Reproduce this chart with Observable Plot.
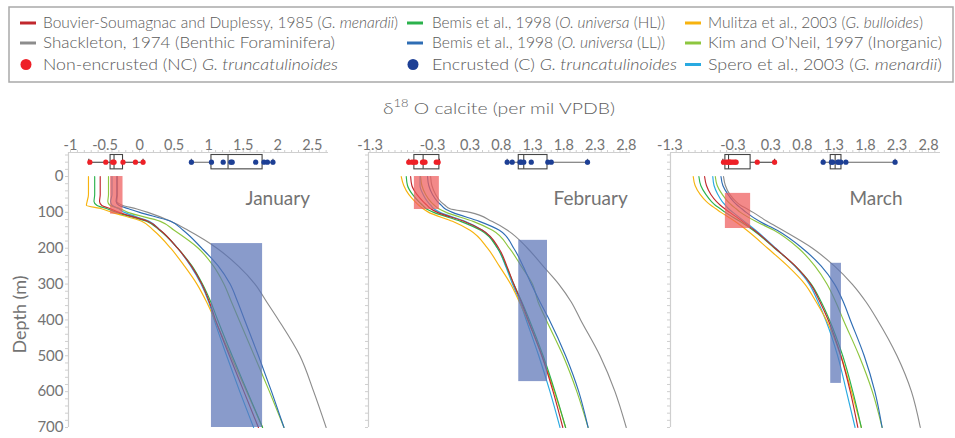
<!DOCTYPE html>
<html><head><meta charset="utf-8">
<script src="https://cdn.jsdelivr.net/npm/d3@7"></script>
<script src="https://cdn.jsdelivr.net/npm/@observablehq/plot@0.6"></script>
<style>
body{margin:0;background:#fff;font-family:Lato,"Noto Sans",sans-serif;}
#wrap{position:relative;width:955px;height:438px;overflow:hidden;background:#fff;}
.panel{position:absolute;top:120px;}
</style></head><body><div id="wrap"></div>
<script>
// ---------- data ----------
const DEPTHS = [0, 25, 50, 70, 80, 90, 100, 125, 150, 200, 250, 300, 350, 400, 500, 600, 700];

const SERIES_KEYS = ["Shackleton", "Kim", "BemisLL", "Spero", "Mulitza", "BemisHL", "Bouvier"];
const SERIES_COLORS = ["#8c8c8c", "#8dc63f", "#2e6db4", "#29aae1", "#f7b30f", "#2bb24c", "#c1272d"];

// January profiles (d18O calcite per mil at DEPTHS)
const janShackleton = [-0.32,-0.32,-0.32,-0.33,-0.25,-0.05,0.12,0.45,0.70,1.12,1.43,1.67,1.84,2.01,2.32,2.52,2.70];
const janKim        = [-0.45,-0.45,-0.45,-0.46,-0.43,-0.28,-0.17,0.30,0.50,0.85,1.07,1.22,1.33,1.44,1.66,1.88,2.09];
const janBemisLL    = [-0.33,-0.33,-0.33,-0.34,-0.30,-0.16,0.00,0.45,0.63,0.90,1.14,1.31,1.42,1.52,1.72,1.91,2.09];
const janSpero      = [-0.40,-0.40,-0.40,-0.42,-0.40,-0.30,-0.22,0.14,0.30,0.55,0.74,0.89,1.00,1.08,1.26,1.45,1.65];
const janMulitza    = [-0.74,-0.74,-0.74,-0.76,-0.77,-0.55,-0.40,0.03,0.20,0.45,0.65,0.83,0.97,1.09,1.32,1.55,1.78];
const janBemisHL    = [-0.65,-0.65,-0.65,-0.66,-0.62,-0.47,-0.33,0.10,0.29,0.55,0.76,0.91,1.03,1.13,1.34,1.56,1.78];
const janBouvier    = [-0.57,-0.57,-0.57,-0.58,-0.55,-0.42,-0.30,0.12,0.30,0.55,0.75,0.90,1.01,1.10,1.30,1.51,1.72];

// February profiles
const febShackleton = [-0.33,-0.31,-0.25,-0.17,-0.10,-0.02,0.30,0.65,0.90,1.22,1.47,1.72,1.92,2.07,2.38,2.62,2.80];
const febKim        = [-0.49,-0.47,-0.41,-0.33,-0.27,-0.20,-0.08,0.35,0.66,0.93,1.12,1.30,1.39,1.52,1.79,2.01,2.19];
const febBemisLL    = [-0.38,-0.36,-0.30,-0.22,-0.16,-0.10,0.02,0.45,0.77,1.00,1.15,1.28,1.42,1.57,1.83,2.04,2.19];
const febSpero      = [-0.50,-0.50,-0.45,-0.38,-0.33,-0.28,-0.18,0.22,0.50,0.74,0.87,0.98,1.10,1.20,1.40,1.58,1.74];
const febMulitza    = [-0.80,-0.76,-0.68,-0.58,-0.52,-0.45,-0.36,0.02,0.30,0.58,0.77,0.95,1.09,1.22,1.45,1.65,1.83];
const febBemisHL    = [-0.72,-0.70,-0.62,-0.52,-0.46,-0.40,-0.28,0.15,0.47,0.74,0.88,1.00,1.13,1.25,1.47,1.66,1.83];
const febBouvier    = [-0.65,-0.63,-0.55,-0.45,-0.39,-0.33,-0.22,0.20,0.50,0.76,0.89,1.00,1.12,1.23,1.45,1.63,1.785];

// March profiles
const marShackleton = [-0.45,-0.42,-0.35,-0.25,-0.18,-0.08,0.02,0.24,0.49,0.96,1.31,1.59,1.81,1.99,2.30,2.53,2.67];
const marKim        = [-0.58,-0.55,-0.47,-0.38,-0.32,-0.25,-0.18,0.06,0.35,0.74,1.00,1.19,1.33,1.45,1.70,1.91,2.065];
const marBemisLL    = [-0.49,-0.46,-0.38,-0.29,-0.23,-0.16,-0.09,0.12,0.40,0.80,1.10,1.31,1.45,1.56,1.78,1.95,2.065];
const marSpero      = [-0.62,-0.60,-0.54,-0.47,-0.42,-0.37,-0.30,-0.12,0.06,0.38,0.68,0.91,1.05,1.17,1.36,1.50,1.636];
const marMulitza    = [-0.93,-0.90,-0.82,-0.72,-0.65,-0.57,-0.49,-0.27,-0.08,0.25,0.57,0.84,1.02,1.18,1.41,1.58,1.735];
const marBemisHL    = [-0.84,-0.81,-0.73,-0.64,-0.58,-0.50,-0.42,-0.19,0.02,0.36,0.69,0.94,1.10,1.23,1.44,1.60,1.735];
const marBouvier    = [-0.75,-0.72,-0.65,-0.56,-0.50,-0.43,-0.35,-0.15,0.04,0.37,0.69,0.93,1.08,1.21,1.41,1.56,1.68];

// Non-encrusted (NC) and encrusted (C) G. truncatulinoides measurements
const ncJan = [-0.72,-0.49,-0.39,-0.37,-0.24,-0.06,0.05];
const ncFeb = [-0.68,-0.63,-0.60,-0.57,-0.46,-0.44,-0.42,-0.24,-0.21];
const ncMar = [-0.45,-0.41,-0.38,-0.36,-0.35,-0.33,-0.30,-0.27,-0.25,0.085,0.36];
const cJan  = [0.75,1.04,1.21,1.32,1.34,1.68,1.80,1.85,1.93];
const cFeb  = [0.895,0.975,1.10,1.12,1.16,1.28,1.545,1.60,2.18];
const cMar  = [1.13,1.26,1.28,1.36,1.38,1.41,1.49,2.27];
// box statistics: [q1, median, q3, whisker low, whisker high]
const ncBoxJan = [-0.42,-0.37,-0.24,-0.735,0.05];
const ncBoxFeb = [-0.59,-0.45,-0.19,-0.68,-0.19];
const ncBoxMar = [-0.42,-0.37,-0.02,-0.46,0.36];
const cBoxJan  = [1.04,1.28,1.78,0.75,1.93];
const cBoxFeb  = [1.08,1.16,1.54,0.895,2.18];
const cBoxMar  = [1.25,1.32,1.42,1.13,2.27];
// calcification depth ranges (m)
const ncDepthJan = [0,105], ncDepthFeb = [0,92], ncDepthMar = [47,145];
const cDepthJan = [187,700], cDepthFeb = [178,572], cDepthMar = [242,577];

// tick labels
const janTicks = [-1,-0.5,0,0.5,1,1.5,2,2.5];
const janTickLabels = ["-1","-0.5","0","0.5","1","1.5","2","2.5"];
const febTicks = [-1.3,-0.3,0.3,0.8,1.3,1.8,2.3,2.8];
const febTickLabels = ["-1.3","-0.3","0.3","0.8","1.3","1.8","2.3","2.8"];
const marTicks = [-1.3,-0.3,0.3,0.8,1.3,1.8,2.3,2.8];
const marTickLabels = ["-1.3","-0.3","0.3","0.8","1.3","1.8","2.3","2.8"];
const depthTicks = [0,100,200,300,400,500,600,700];
const monthNames = ["January","February","March"];

const legendTexts = [
  "Bouvier-Soumagnac and Duplessy, 1985 (*G. menardii*)",
  "Shackleton, 1974 (Benthic Foraminifera)",
  "Non-encrusted (NC) *G. truncatulinoides*",
  "Bemis et al., 1998 (*O. universa* (HL))",
  "Bemis et al., 1998 (*O. universa* (LL))",
  "Encrusted (C) *G. truncatulinoides*",
  "Mulitza et al., 2003 (*G. bulloides*)",
  "Kim and O\u2019Neil, 1997 (Inorganic)",
  "Spero et al., 2003 (*G. menardii*)"
];
const legendColors = ["#c1272d","#8c8c8c","#ee2027","#2bb24c","#2e6db4","#1d3f95","#f7b30f","#8dc63f","#29aae1"];
const legendKinds = ["line","line","dot","line","line","dot","line","line","line"];

// ---------- drawing ----------
const NC_COLOR = "#ee2027", C_COLOR = "#1d3f95";
const TXT = "#737373";
const wrap = d3.select("#wrap");

// header: legend + title
const hdr = wrap.append("svg").attr("width",955).attr("height",120)
  .style("position","absolute").style("left","0px").style("top","0px")
  .style("font-family","Lato, 'Noto Sans', sans-serif");
hdr.append("rect").attr("x",9).attr("y",7).attr("width",944).attr("height",75)
  .attr("fill","none").attr("stroke","#a9a9a9").attr("stroke-width",1.5);
const colMark = [20,407,685], colText = [43,432,708];
const rowMid = [23,43,64.5], rowBase = [28.3,47.7,70];
const textLens = [355,292,295,233,233,245,215,234,234];
legendTexts.forEach((t,i) => {
  const c = Math.floor(i/3), r = i%3;
  if (legendKinds[i] === "line") {
    hdr.append("line").attr("x1",colMark[c]).attr("x2",colMark[c]+16)
      .attr("y1",rowMid[r]).attr("y2",rowMid[r]).attr("stroke",legendColors[i]).attr("stroke-width",3);
  } else {
    hdr.append("circle").attr("cx",colMark[c]+6).attr("cy",rowMid[r]).attr("r",5.5).attr("fill",legendColors[i]);
  }
  const tx = hdr.append("text").attr("x",colText[c]).attr("y",rowBase[r])
    .attr("font-size",15).attr("font-weight",300).attr("fill","#5a5a5a")
    .attr("textLength",textLens[i]).attr("lengthAdjust","spacingAndGlyphs");
  t.split("*").forEach((p,j) => { if (p) tx.append("tspan").text(p).attr("font-style", j%2 ? "italic" : "normal"); });
});
const title = hdr.append("text").attr("x",383).attr("y",114).attr("font-size",16.5).attr("font-weight",300).attr("fill","#606060")
  .attr("textLength",232).attr("lengthAdjust","spacingAndGlyphs");
title.append("tspan").text("\u03b4");
title.append("tspan").text("18").attr("font-size",11).attr("dy",-7);
title.append("tspan").text(" O calcite (per mil VPDB)").attr("dy",7);

function rows(arrays) {
  const out = [];
  SERIES_KEYS.forEach((k,j) => arrays[j].forEach((v,i) => out.push({series:k, depth:DEPTHS[i], value:v})));
  return out;
}

const BOX_Y = -40, BOX_T = -60, BOX_B = -20, CAP_T = -48, CAP_B = -32;
function boxMarks(pts, box, color, lineColor) {
  const [q1, med, q3, lo, hi] = box;
  return [
    Plot.ruleY([BOX_Y], {x1: lo, x2: hi, stroke: lineColor, strokeWidth: 1.1}),
    Plot.ruleX([lo, hi], {y1: CAP_T, y2: CAP_B, stroke: lineColor, strokeWidth: 1.1}),
    Plot.rect([box], {x1: q1, x2: q3, y1: BOX_T, y2: BOX_B, fill: "white", stroke: "#444", strokeWidth: 1.1}),
    Plot.ruleX([med], {y1: BOX_T, y2: BOX_B, stroke: "#444", strokeWidth: 1.1}),
    Plot.dot(pts, {x: d => d, y: BOX_Y, r: 2.6, fill: color, stroke: "none"})
  ];
}

function makePanel(o) {
  const [xmin, xmax] = o.xdomain;
  const minor = d3.range(Math.ceil(xmin*10), Math.floor(xmax*10)+1).map(d => d/10);
  const labelMap = new Map(o.ticks.map((t,i) => [t, o.tickLabels[i]]));
  const lines = rows(o.profiles);
  const ncRect = [{x1:o.ncBox[0], x2:o.ncBox[2], y1:o.ncDepth[0], y2:o.ncDepth[1]}];
  const cRect = [{x1:o.cBox[0], x2:o.cBox[2], y1:o.cDepth[0], y2:o.cDepth[1]}];
  const marks = [
    Plot.ruleY([-67], {stroke: "#cfcfcf", strokeWidth: 1.2}),
    Plot.ruleX([xmin], {stroke: "#cfcfcf", strokeWidth: 1.2}),
    Plot.axisX(minor, {anchor: "top", tickSize: 3, tickFormat: () => "", stroke: "#cfcfcf", label: null}),
    Plot.axisX(o.ticks, {anchor: "top", tickSize: 0, tickPadding: 3, tickFormat: d => labelMap.get(d), fontSize: 14.5, fill: TXT, label: null}),
    Plot.axisY(d3.range(-60, 701, 20), {anchor: "left", tickSize: 3, tickFormat: () => "", stroke: "#cfcfcf", label: null}),
    Plot.line(lines, {x: "value", y: "depth", z: "series", stroke: "series", curve: "monotone-y", strokeWidth: 1.15}),
    Plot.rect(ncRect, {x1: "x1", x2: "x2", y1: "y1", y2: "y2", fill: "#ee5c5c", fillOpacity: 0.72}),
    Plot.rect(cRect, {x1: "x1", x2: "x2", y1: "y1", y2: "y2", fill: "#5c74b7", fillOpacity: 0.72}),
    ...boxMarks(o.nc, o.ncBox, NC_COLOR, "#333"),
    ...boxMarks(o.c, o.cBox, C_COLOR, "#666"),
    Plot.text([o.name], {text: d => d, frameAnchor: "top-left", dx: o.nameDx, dy: 46, textAnchor: "start", lineAnchor: "middle", fontSize: 19, fill: TXT})
  ];
  if (o.first) {
    marks.push(Plot.axisY(depthTicks, {anchor: "left", tickSize: 0, tickPadding: 5, fontSize: 15, fill: TXT, label: null}));
    marks.push(Plot.text(["Depth (m)"], {text: d => d, frameAnchor: "left", dx: -48, dy: 24.5, rotate: -90, textAnchor: "middle", lineAnchor: "middle", fontSize: 18, fill: TXT}));
  }
  const chart = Plot.plot({
    width: o.width, height: 318,
    marginLeft: o.ml, marginRight: o.mr, marginTop: 32, marginBottom: 11,
    x: {domain: o.xdomain, label: null},
    y: {domain: [700, -67], label: null},
    color: {domain: SERIES_KEYS, range: SERIES_COLORS},
    style: {fontFamily: "Lato, 'Noto Sans', sans-serif", background: "transparent", overflow: "visible"},
    marks
  });
  const div = wrap.append("div").attr("class","panel").style("left", o.left + "px");
  div.node().appendChild(chart);
}

makePanel({first: true, name: monthNames[0], left: 0, width: 340, ml: 68, mr: 12, xdomain: [-1.029, 2.734],
  ticks: janTicks, tickLabels: janTickLabels, nameDx: 177,
  profiles: [janShackleton, janKim, janBemisLL, janSpero, janMulitza, janBemisHL, janBouvier],
  nc: ncJan, ncBox: ncBoxJan, c: cJan, cBox: cBoxJan, ncDepth: ncDepthJan, cDepth: cDepthJan});
makePanel({first: false, name: monthNames[1], left: 340, width: 300, ml: 28, mr: 10, xdomain: [-1.324, 2.868],
  ticks: febTicks, tickLabels: febTickLabels, nameDx: 185,
  profiles: [febShackleton, febKim, febBemisLL, febSpero, febMulitza, febBemisHL, febBouvier],
  nc: ncFeb, ncBox: ncBoxFeb, c: cFeb, cBox: cBoxFeb, ncDepth: ncDepthFeb, cDepth: cDepthFeb});
makePanel({first: false, name: monthNames[2], left: 640, width: 315, ml: 30, mr: 15, xdomain: [-1.29, 2.99],
  ticks: marTicks, tickLabels: marTickLabels, nameDx: 179,
  profiles: [marShackleton, marKim, marBemisLL, marSpero, marMulitza, marBemisHL, marBouvier],
  nc: ncMar, ncBox: ncBoxMar, c: cMar, cBox: cBoxMar, ncDepth: ncDepthMar, cDepth: cDepthMar});
</script></body></html>
